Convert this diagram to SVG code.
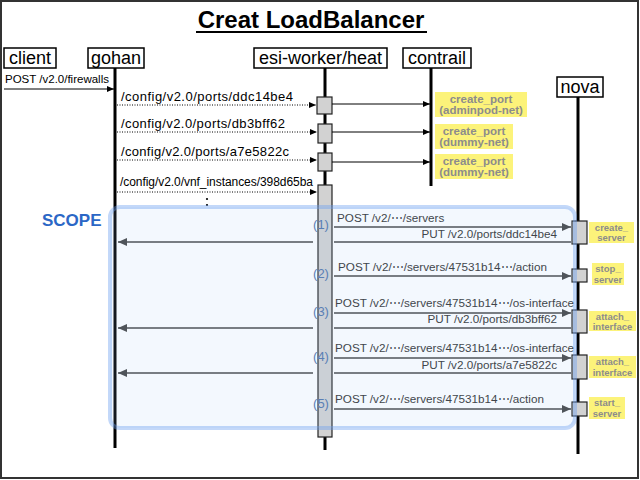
<svg xmlns="http://www.w3.org/2000/svg" width="640" height="480" viewBox="0 0 640 480">
<style>
text{font-family:"Liberation Sans",Arial,sans-serif}
.hdr{fill:#fff;stroke:#000;stroke-width:1.5}
.hdrt{font-size:18px;fill:#000;text-anchor:middle}
.life{stroke:#000;stroke-width:3}
.act{fill:#d2d2d2;stroke:#222;stroke-width:1.2}
.dot{stroke:#000;stroke-width:1;stroke-dasharray:1 1.5;fill:none}
.sol{stroke:#000;stroke-width:1;fill:none}
.dk{stroke:#444;stroke-width:1.6;fill:none}
.cfg{font-size:13px;fill:#000}
.msg{font-size:11.7px;fill:#333}
.num{font-size:13px;fill:#5a7fb5;text-anchor:middle}
.yl{fill:#fcf37a}
.ylt{font-weight:bold;fill:#8c8c8c;text-anchor:middle}
.nl{font-size:9.5px}
</style>
<defs>
<marker id="ab" markerWidth="7" markerHeight="6" refX="7" refY="3" orient="auto" markerUnits="userSpaceOnUse"><path d="M0,0 L7,3 L0,6 z" fill="#000"/></marker>
<marker id="ad" markerWidth="9" markerHeight="8" refX="9" refY="4" orient="auto" markerUnits="userSpaceOnUse"><path d="M0,0 L9,4 L0,8 z" fill="#444"/></marker>
</defs>
<rect x="1" y="1" width="637" height="477" fill="#fff" stroke="#333" stroke-width="2"/>
<text x="311" y="28" font-size="24" font-weight="bold" text-anchor="middle" fill="#000">Creat LoadBalancer</text>
<line x1="196" y1="32" x2="427" y2="32" stroke="#000" stroke-width="2"/>

<g id="client"><rect class="hdr" x="4" y="48" width="52" height="20"/><text class="hdrt" x="30" y="64">client</text></g>
<g id="gohan"><line class="life" x1="115" y1="68" x2="115" y2="448"/><rect class="hdr" x="88" y="48" width="56" height="20"/><text class="hdrt" x="116" y="64">gohan</text></g>
<g id="esi-worker"><line class="life" x1="325" y1="68" x2="325" y2="450"/><rect class="hdr" x="254" y="48" width="133" height="20"/><text class="hdrt" x="320.5" y="64">esi-worker/heat</text>
<rect class="act" x="317" y="97" width="15" height="17"/>
<rect class="act" x="318" y="124" width="14" height="19"/>
<rect class="act" x="318" y="153" width="14" height="18"/>
<rect class="act" x="318" y="185" width="14" height="252"/>
</g>
<g id="contrail"><line class="life" x1="431" y1="68" x2="431" y2="186"/><rect class="hdr" x="403" y="48" width="68" height="20"/><text class="hdrt" x="437" y="64">contrail</text>
<rect class="yl" x="435" y="92" width="92" height="25"/><text class="ylt" font-size="11.5" x="481" y="103">create_port</text><text class="ylt" font-size="11.5" x="481" y="114">(adminpod-net)</text>
<rect class="yl" x="435" y="124" width="78" height="25"/><text class="ylt" font-size="11.5" x="474" y="135">create_port</text><text class="ylt" font-size="11.5" x="474" y="146">(dummy-net)</text>
<rect class="yl" x="435" y="154" width="78" height="25"/><text class="ylt" font-size="11.5" x="474" y="165">create_port</text><text class="ylt" font-size="11.5" x="474" y="176">(dummy-net)</text>
</g>
<g id="nova"><line class="life" x1="578" y1="97" x2="578" y2="454"/><rect class="hdr" x="557" y="77" width="46" height="20"/><text class="hdrt" x="580" y="93">nova</text>
<rect class="act" x="572" y="221" width="15" height="23"/>
<rect class="act" x="572" y="269" width="15" height="13"/>
<rect class="act" x="572" y="310" width="15" height="23"/>
<rect class="act" x="572" y="355" width="15" height="24"/>
<rect class="act" x="572" y="402" width="15" height="14"/>
<rect class="yl" x="589" y="222" width="45" height="21"/><text class="ylt nl" x="611.5" y="230.5">create_</text><text class="ylt nl" x="611.5" y="241">server</text>
<rect class="yl" x="592" y="263" width="32" height="22"/><text class="ylt nl" x="608" y="272">stop_</text><text class="ylt nl" x="608" y="282.5">server</text>
<rect class="yl" x="589" y="311" width="47" height="20"/><text class="ylt nl" x="612.5" y="319.5">attach_</text><text class="ylt nl" x="612.5" y="330">interface</text>
<rect class="yl" x="589" y="356" width="47" height="22"/><text class="ylt nl" x="612.5" y="365">attach_</text><text class="ylt nl" x="612.5" y="375.5">interface</text>
<rect class="yl" x="589" y="397" width="36" height="22"/><text class="ylt nl" x="607" y="406">start_</text><text class="ylt nl" x="607" y="416.5">server</text>
</g>

<g id="connectors">
<line class="sol" x1="4" y1="89" x2="114" y2="89" marker-end="url(#ab)"/>
<text x="5" y="83" font-size="11.5" fill="#000">POST /v2.0/firewalls</text>
<line class="dot" x1="117" y1="105" x2="316" y2="105" marker-end="url(#ab)"/>
<text class="cfg" x="121" y="101" textLength="172">/config/v2.0/ports/ddc14be4</text>
<line class="dot" x1="117" y1="132" x2="317" y2="132" marker-end="url(#ab)"/>
<text class="cfg" x="121" y="128" textLength="164">/config/v2.0/ports/db3bff62</text>
<line class="dot" x1="117" y1="160" x2="317" y2="160" marker-end="url(#ab)"/>
<text class="cfg" x="121" y="156" textLength="168">/config/v2.0/ports/a7e5822c</text>
<line class="dot" x1="117" y1="192" x2="317" y2="192" marker-end="url(#ab)"/>
<text x="120" y="186" font-size="12" fill="#000" textLength="193">/config/v2.0/vnf_instances/398d65ba</text>
<circle cx="207" cy="199" r="1.1" fill="#000"/><circle cx="207" cy="205" r="1.1" fill="#000"/>
<line class="sol" x1="332" y1="104" x2="430" y2="104" marker-end="url(#ab)"/>
<line class="sol" x1="332" y1="132" x2="430" y2="132" marker-end="url(#ab)"/>
<line class="sol" x1="332" y1="162" x2="430" y2="162" marker-end="url(#ab)"/>

<line class="dk" x1="334" y1="227" x2="571" y2="227" marker-end="url(#ad)"/>
<text class="msg" x="337" y="222">POST /v2/⋯/servers</text>
<line class="dk" x1="571" y1="242" x2="334" y2="242"/>
<line class="dk" x1="313" y1="242" x2="118" y2="242" marker-end="url(#ad)"/>
<text class="msg" x="557" y="238" text-anchor="end">PUT /v2.0/ports/ddc14be4</text>

<line class="dk" x1="334" y1="276" x2="571" y2="276" marker-end="url(#ad)"/>
<text class="msg" x="338" y="271">POST /v2/⋯/servers/47531b14⋯/action</text>

<line class="dk" x1="334" y1="313" x2="571" y2="313" marker-end="url(#ad)"/>
<text class="msg" x="335" y="307" textLength="239">POST /v2/⋯/servers/47531b14⋯/os-interface</text>
<line class="dk" x1="571" y1="328" x2="334" y2="328"/>
<line class="dk" x1="313" y1="328" x2="118" y2="328" marker-end="url(#ad)"/>
<text class="msg" x="557" y="323" text-anchor="end">PUT /v2.0/ports/db3bff62</text>

<line class="dk" x1="334" y1="358" x2="571" y2="358" marker-end="url(#ad)"/>
<text class="msg" x="335" y="352" textLength="239">POST /v2/⋯/servers/47531b14⋯/os-interface</text>
<line class="dk" x1="571" y1="373" x2="334" y2="373"/>
<line class="dk" x1="313" y1="373" x2="118" y2="373" marker-end="url(#ad)"/>
<text class="msg" x="557" y="369" text-anchor="end">PUT /v2.0/ports/a7e5822c</text>

<line class="dk" x1="334" y1="409" x2="571" y2="409" marker-end="url(#ad)"/>
<text class="msg" x="335" y="403">POST /v2/⋯/servers/47531b14⋯/action</text>
</g>

<g id="scope">
<rect x="110" y="207" width="465" height="221" rx="10" fill="#a0c4f8" fill-opacity="0.126" stroke="#6a9ef0" stroke-opacity="0.4" stroke-width="4"/>
<text x="42" y="226" font-size="17" font-weight="bold" fill="#2b67c6">SCOPE</text>
<text class="num" x="321" y="228.5">(1)</text>
<text class="num" x="321" y="277.5">(2)</text>
<text class="num" x="321" y="315.5">(3)</text>
<text class="num" x="321" y="360.5">(4)</text>
<text class="num" x="321" y="407.5">(5)</text>
</g>
</svg>
